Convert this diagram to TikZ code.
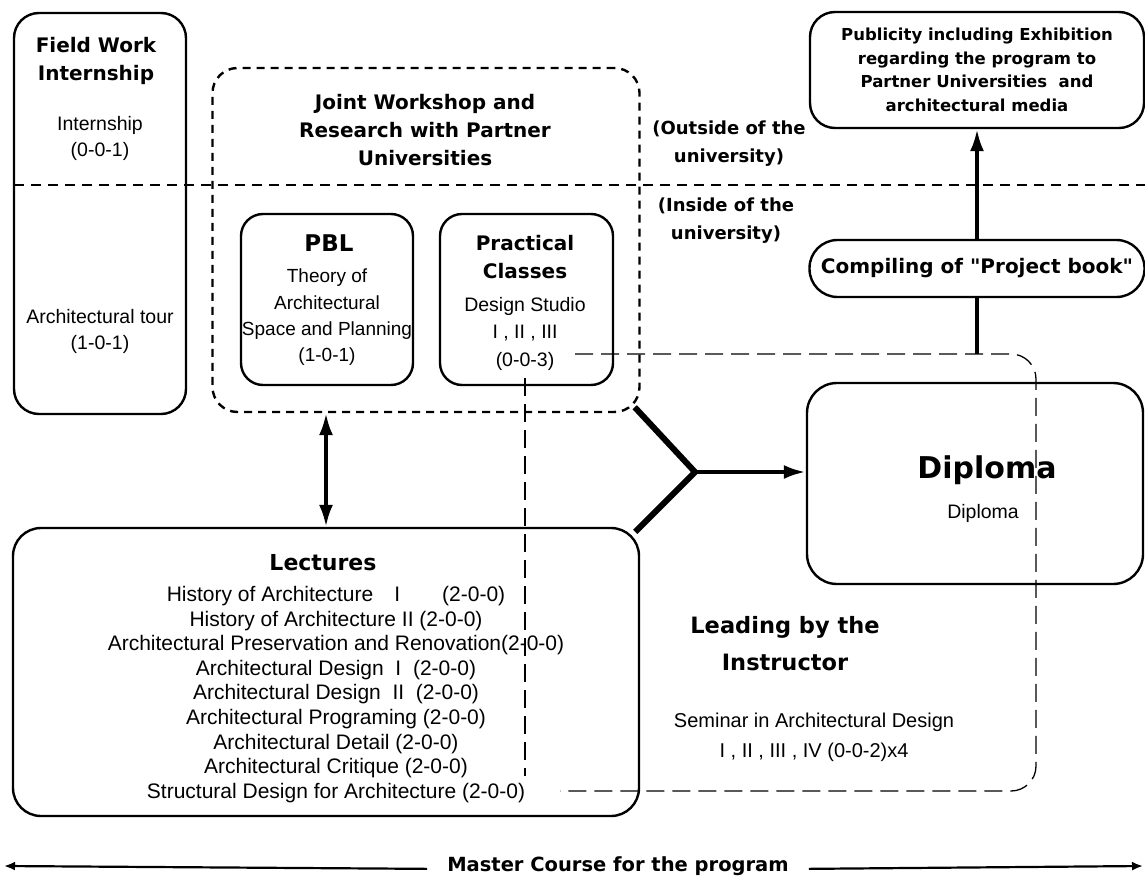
\documentclass[tikz,border=0pt]{standalone}
\usepackage{fontspec}
\setmainfont{Liberation Sans}
\newfontfamily\heavy{DejaVu Sans}
\newcommand\fsz[2]{\fontsize{#1}{#2}\selectfont}
\usetikzlibrary{arrows.meta}

\begin{document}
\begin{tikzpicture}[x=1pt,y=-1pt,
  box/.style={draw,line width=2.4pt,rounded corners=#1,inner sep=0pt},
  ttl/.style={align=center,font=\heavy\bfseries\fsz{20}{28}},
  body/.style={align=center,font=\fsz{19.5}{26.5}},
  divline/.style={dash pattern=on 10pt off 7pt,line width=2pt},
  frame/.style={dash pattern=on 18pt off 8pt,line width=1.3pt},
  thick line/.style={line width=3.6pt},
  arr/.style={-{Latex[length=22pt,width=14pt]},line width=3.6pt},
  dblarr/.style={{Latex[length=22pt,width=14pt]}-{Latex[length=22pt,width=14pt]},line width=3.6pt},
  crs/.style={-{Latex[length=11pt,width=9pt]},line width=2.2pt}]
\useasboundingbox (0,0) rectangle (1145,877);

\node[box=25,minimum width=172,minimum height=401] (field) at (100,213.5) {};
\node[ttl] (fieldT) at (96,61) {Field Work\\Internship};
\node[body] (intern) at (100,138.5) {Internship\\(0-0-1)};
\node[body] (tour) at (100,331.5) {Architectural tour\\(1-0-1)};

\node[box=25,dash pattern=on 8pt off 6pt,minimum width=427,minimum height=344] (joint) at (426,240) {};
\node[ttl] (jointT) at (425,130.5) {Joint Workshop and\\Research with Partner\\Universities};

\coordinate (dl) at (14,185);
\coordinate (dr) at (1145,185);
\draw[divline] (dl) -- (dr);

\node[box=22,minimum width=172,minimum height=171] (pbl) at (327,299.5) {};
\node[ttl,font=\heavy\bfseries\fsz{23}{28}] (pblT) at (329,243) {PBL};
\node[body,font=\fsz{19}{26.3}] (pblB) at (327,317.5) {Theory of\\Architectural\\Space and Planning\\(1-0-1)};

\node[box=22,minimum width=173,minimum height=171] (prac) at (526.5,299.5) {};
\node[ttl] (pracT) at (525,257) {Practical\\Classes};
\node[body,font=\fsz{19.5}{27.5}] (pracB) at (525,333.5) {Design Studio\\I , II , III\\(0-0-3)};

\node[ttl,font=\heavy\bfseries\fsz{18}{28}] (outside) at (729,144) {(Outside of the\\university)};
\node[ttl,font=\heavy\bfseries\fsz{18}{28}] (inside) at (726,221) {(Inside of the\\university)};

\node[box=25,ttl,font=\heavy\bfseries\fsz{16.5}{23.5},minimum width=334,minimum height=116] (pub) at (977,70)
  {Publicity including Exhibition\\regarding the program to\\Partner Universities\ \ and\\architectural media};
\node[box=28,ttl,minimum width=335,minimum height=57] (compile) at (977,268.5) {Compiling of "Project book"};
\draw[arr] (compile.north) -- (pub.south);

\node[box=30,minimum width=336,minimum height=201] (dip) at (975,483.5) {};
\node[ttl,font=\heavy\bfseries\fsz{30}{34}] (dipT) at (987,470) {Diploma};
\node[body] (dipB) at (983,513) {Diploma};

\node[box=28,minimum width=626,minimum height=288] (lect) at (326,672) {};
\node[ttl,font=\heavy\bfseries\fsz{22}{28}] (lectT) at (323,563) {Lectures};
\node[body,font=\fsz{21}{24.6}] (lectB) at (336,694.5) {History of Architecture\quad I\qquad(2-0-0)\\
  History of Architecture II (2-0-0)\\
  Architectural Preservation and Renovation(2-0-0)\\
  Architectural Design\ \ I\ \ (2-0-0)\\
  Architectural Design\ \ II\ \ (2-0-0)\\
  Architectural Programing (2-0-0)\\
  Architectural Detail (2-0-0)\\
  Architectural Critique (2-0-0)\\
  Structural Design for Architecture (2-0-0)};

\draw[dblarr] (joint.south -| lect.north) -- (lect.north);

\coordinate (jc) at ([shift={(-6,-6)}]joint.south east);
\coordinate (lc) at ([shift={(-5,5)}]lect.north east);
\coordinate (join) at (695,472);
\draw[line width=6pt] (jc) -- (join) -- (lc);
\draw[arr,line width=4pt] (join) -- (join -| dip.west);

\node[ttl,font=\heavy\bfseries\fsz{22.5}{37}] (lead) at (785,643.5) {Leading by the\\Instructor};
\node[body,font=\fsz{20}{30}] (semi) at (814,737) {Seminar in Architectural Design\\I , II , III , IV (0-0-2)x4};

\coordinate (f1) at (575,354);
\coordinate (f2) at (1036,354);
\coordinate (f3) at (1036,791);
\coordinate (f4) at (560,791);
\draw[frame,rounded corners=25] (f1) -- (f2) -- (f3) -- (f4);
\coordinate (f5) at (525,378);
\coordinate (f6) at (525,776);
\draw[frame] (f5) -- (f6);
\draw[thick line] (compile.south) -- (compile.south |- f2);

\node[ttl,font=\heavy\bfseries\fsz{19.5}{24},inner xsep=20pt,anchor=base] (course) at (618,871.5) {Master Course for the program};
\coordinate (cl) at (4,866);
\coordinate (cr) at (1143,866);
\draw[crs] (course.mid west) -- (cl);
\draw[crs] (course.mid east) -- (cr);
\end{tikzpicture}
\end{document}
